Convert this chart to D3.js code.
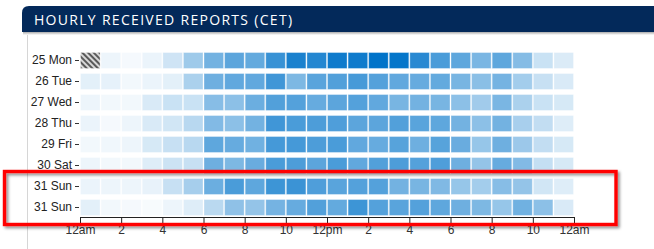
<!DOCTYPE html>
<html><head><meta charset="utf-8">
<script src="https://cdn.jsdelivr.net/npm/d3@7"></script>
<style>
html,body{margin:0;padding:0;background:#fff;}
svg{display:block;}
</style></head>
<body>
<script>
// Data
const dayLabels = ["25 Mon","26 Tue","27 Wed","28 Thu","29 Fri","30 Sat","31 Sun","31 Sun"];
const hourTicks = [0,2,4,6,8,10,12,14,16,18,20,22,24];
const hourTickLabels = ["12am","2","4","6","8","10","12pm","2","4","6","8","10","12am"];
const mon25 = [null,7,4,8,19,38,55,64,61,78,90,86,94,94,100,98,84,71,63,52,63,48,21,14];
const tue26 = [11,10,5,8,11,33,57,62,62,75,51,65,68,72,67,62,60,61,53,46,54,36,22,15];
const wed27 = [7,5,5,15,21,21,47,45,58,68,67,60,64,67,62,53,55,53,45,37,52,33,21,16];
const thu28 = [8,4,7,15,18,28,49,45,55,75,71,70,69,64,64,68,65,63,55,45,55,34,24,13];
const fri29 = [5,6,7,16,22,28,63,60,56,73,73,70,71,62,60,66,57,66,59,41,57,39,24,16];
const sat30 = [7,5,5,13,20,22,57,51,59,71,70,64,71,62,68,70,67,69,57,42,60,49,23,16];
const sun31a = [8,7,7,9,22,35,58,71,63,76,77,69,65,67,67,55,53,50,41,36,47,42,18,13];
const sun31b = [11,5,4,3,7,13,27,44,42,54,60,68,61,76,67,65,67,63,57,51,41,56,45,15];
const rows = [mon25,tue26,wed27,thu28,fri29,sat30,sun31a,sun31b];

const W = 654, H = 249;
const svg = d3.select("body").append("svg").attr("width", W).attr("height", H);
const defs = svg.append("defs");

const pat = defs.append("pattern").attr("id","hatch").attr("patternUnits","userSpaceOnUse")
  .attr("width",4).attr("height",4).attr("patternTransform","rotate(-45)");
pat.append("rect").attr("width",4).attr("height",4).attr("fill","#d8d8d8");
pat.append("rect").attr("width",2).attr("height",4).attr("fill","#5a5a5a");

const flt = defs.append("filter").attr("id","shadow").attr("x","-5%").attr("y","-20%").attr("width","110%").attr("height","150%");
flt.append("feDropShadow").attr("dx",2).attr("dy",2).attr("stdDeviation",1.5)
  .attr("flood-color","#000").attr("flood-opacity",0.45);

const hdrShadow = defs.append("linearGradient").attr("id","hshadow").attr("x1",0).attr("y1",0).attr("x2",0).attr("y2",1);
hdrShadow.append("stop").attr("offset","0%").attr("stop-color","#aaa");
hdrShadow.append("stop").attr("offset","100%").attr("stop-color","#fff");

// panel left border
svg.append("line").attr("x1",27.5).attr("x2",27.5).attr("y1",32).attr("y2",H).attr("stroke","#d6d6d6").attr("stroke-width",1);
// header shadow
svg.append("rect").attr("x",23).attr("y",32).attr("width",W-23).attr("height",3).attr("fill","url(#hshadow)");
// header
const hx = 22, hy = 6, hh = 26, r = 7;
svg.append("path")
  .attr("d", `M${hx},${hy+hh} L${hx},${hy+r} Q${hx},${hy} ${hx+r},${hy} L${W},${hy} L${W},${hy+hh} Z`)
  .attr("fill","#03295a");
svg.append("text").attr("x",34).attr("y",25)
  .attr("fill","#fff").attr("font-family","'Open Sans', sans-serif").attr("font-size",14)
  .attr("letter-spacing","1.3px")
  .text("HOURLY RECEIVED REPORTS (CET)");

// scales
const x = d3.scaleLinear().domain([0,24]).range([80,574]);
const y = d3.scaleBand().domain(d3.range(dayLabels.length)).range([50,218]).paddingInner(0.24).paddingOuter(0.12);
const color = d3.scaleLinear().domain([0,100]).range(["#ffffff","#0073c9"]);

const cells = [];
rows.forEach((row,ri)=>row.forEach((v,h)=>cells.push({ri,h,v})));

const g = svg.append("g");
g.selectAll("rect.cell").data(cells).join("rect")
  .attr("class","cell")
  .attr("x", d=>x(d.h)+0.5)
  .attr("y", d=>y(d.ri))
  .attr("width", x(1)-x(0)-1)
  .attr("height", y.bandwidth())
  .attr("fill", d=> d.v===null ? "url(#hatch)" : color(d.v))
  .attr("stroke","rgba(255,255,255,0.35)")
  .attr("stroke-width",1);

// y axis
const yAxis = d3.axisLeft(y).tickSize(4).tickPadding(3).tickFormat(i=>dayLabels[i]);
const ya = svg.append("g").attr("transform","translate(79,0)").call(yAxis);
ya.select(".domain").remove();
ya.selectAll("text").attr("font-family","'Liberation Sans', Arial, sans-serif").attr("font-size",12).attr("fill","#222");
ya.selectAll("line").attr("stroke","#333");

// x axis
const xAxis = d3.axisBottom(x).tickValues(hourTicks).tickSize(6).tickPadding(2)
  .tickFormat((d,i)=>hourTickLabels[i]);
const xa = svg.append("g").attr("transform","translate(0,217)").call(xAxis);
xa.selectAll("text").attr("font-family","'Liberation Sans', Arial, sans-serif").attr("font-size",12).attr("fill","#333");
xa.selectAll("line,path").attr("stroke","#222");

// highlight box
svg.append("rect").attr("x",4.5).attr("y",171.5).attr("width",611.5).attr("height",53)
  .attr("fill","none").attr("stroke","#ff0000").attr("stroke-width",3.4)
  .attr("filter","url(#shadow)");
</script>
</body></html>
